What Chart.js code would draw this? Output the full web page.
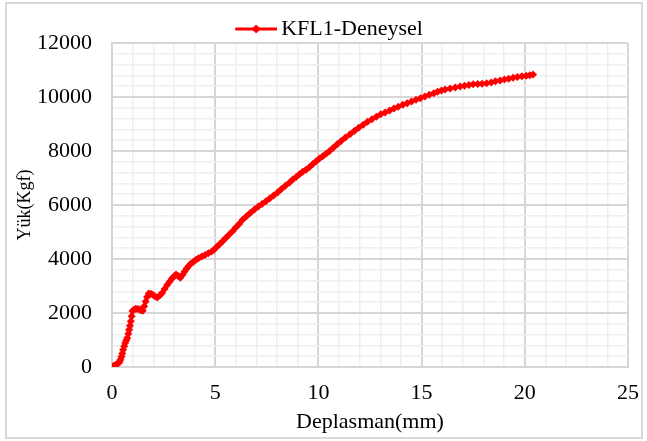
<!DOCTYPE html>
<html>
<head>
<meta charset="utf-8">
<script src="https://cdn.jsdelivr.net/npm/chart.js@4.4.1/dist/chart.umd.min.js"></script>
<style>
  html, body { margin: 0; padding: 0; background: #fff; }
  #wrap { position: relative; width: 647px; height: 441px; }
  #frame { position: absolute; left: 5px; top: 2px; width: 634px; height: 433px;
           border: 2px solid #d9d9d9; pointer-events: none; }
</style>
</head>
<body>
<div id="wrap">
  <canvas id="chart" width="647" height="441"></canvas>
  <div id="frame"></div>
</div>
<script>
// Deplasman (mm) and Yük (Kgf)
const deplasman = [
  0.00, 0.05, 0.11, 0.17, 0.24, 0.30, 0.36, 0.41, 0.46, 0.50,
  0.54, 0.59, 0.64, 0.69, 0.74, 0.79, 0.83, 0.87, 0.91, 0.95,
  0.99, 1.07, 1.15, 1.23, 1.31, 1.40, 1.49, 1.56, 1.63, 1.70,
  1.78, 1.88, 1.98, 2.08, 2.19, 2.31, 2.43, 2.55, 2.67, 2.79,
  2.91, 3.01, 3.10, 3.20, 3.31, 3.42, 3.52, 3.62, 3.71, 3.83,
  3.95, 4.07, 4.19, 4.35, 4.51, 4.67, 4.83, 4.95, 5.07, 5.21,
  5.35, 5.51, 5.67, 5.84, 6.00, 6.17, 6.33, 6.52, 6.71, 6.90,
  7.09, 7.27, 7.46, 7.65, 7.83, 8.02, 8.21, 8.40, 8.60, 8.76,
  8.92, 9.08, 9.24, 9.40, 9.56, 9.72, 9.89, 10.05, 10.21, 10.37,
  10.53, 10.72, 10.91, 11.10, 11.31, 11.53, 11.74, 11.95, 12.17, 12.38,
  12.59, 12.81, 13.02, 13.23, 13.45, 13.66, 13.87, 14.09, 14.30, 14.51,
  14.73, 14.94, 15.16, 15.37, 15.59, 15.77, 15.96, 16.14, 16.38, 16.63,
  16.87, 17.08, 17.29, 17.50, 17.72, 17.93, 18.15, 18.37, 18.58, 18.80,
  19.01, 19.22, 19.43, 19.64, 19.86, 20.07, 20.24, 20.40
];
const yuk = [
  0, 25, 50, 75, 110, 140, 175, 270, 380, 500,
  640, 770, 890, 980, 1070, 1230, 1380, 1530, 1690, 1880,
  2070, 2130, 2155, 2150, 2135, 2100, 2080, 2250, 2430, 2590,
  2720, 2710, 2680, 2620, 2570, 2650, 2740, 2890, 3040, 3160,
  3280, 3360, 3430, 3370, 3310, 3420, 3540, 3650, 3740, 3830,
  3900, 3970, 4030, 4090, 4150, 4210, 4280, 4350, 4440, 4550,
  4650, 4780, 4900, 5030, 5170, 5310, 5450, 5580, 5710, 5830,
  5940, 6040, 6140, 6250, 6350, 6460, 6590, 6710, 6830, 6940,
  7040, 7140, 7230, 7310, 7400, 7510, 7620, 7720, 7810, 7900,
  7990, 8120, 8250, 8370, 8500, 8620, 8740, 8860, 8970, 9080,
  9180, 9270, 9360, 9430, 9500, 9570, 9640, 9710, 9770, 9830,
  9895, 9955, 10020, 10080, 10140, 10190, 10240, 10280, 10315, 10350,
  10385, 10415, 10445, 10470, 10480, 10490, 10505, 10540, 10580, 10615,
  10650, 10680, 10710, 10740, 10765, 10790, 10810, 10830
];
const seriesName = 'KFL1-Deneysel';
const xTitle = 'Deplasman(mm)';
const yTitle = 'Yük(Kgf)';
const xMax = 25, xMajor = 5, xMinor = 1;
const yMax = 12000, yMajor = 2000, yMinor = 400;

const RED = '#ff0000';
const MAJOR = '#d6d6d6';
const MINOR = '#efefef';
const FONT = 'Liberation Serif, Times New Roman, serif';

// legend symbol: line with a diamond in the middle (left part kept empty to push it right)
const legendMark = document.createElement('canvas');
legendMark.width = 60;
legendMark.height = 12;
const g = legendMark.getContext('2d');
g.strokeStyle = RED;
g.lineWidth = 3;
g.beginPath(); g.moveTo(18, 6); g.lineTo(60, 6); g.stroke();
g.fillStyle = RED;
g.beginPath(); g.moveTo(39, 1.5); g.lineTo(43.5, 6); g.lineTo(39, 10.5); g.lineTo(34.5, 6); g.closePath(); g.fill();

const points = deplasman.map((x, i) => ({ x, y: yuk[i] }));

const gridColor = (step) => (c) => (c.tick && Math.round(c.tick.value) % step === 0 ? MAJOR : MINOR);
const gridWidth = (step) => (c) => (c.tick && Math.round(c.tick.value) % step === 0 ? 2 : 1.5);

new Chart(document.getElementById('chart'), {
  type: 'line',
  data: {
    datasets: [{
      label: seriesName,
      data: points,
      borderColor: RED,
      backgroundColor: RED,
      borderWidth: 3,
      pointStyle: 'rectRot',
      pointRadius: 4,
      pointBorderWidth: 0,
      pointBackgroundColor: RED,
      tension: 0,
      fill: false
    }]
  },
  options: {
    responsive: false,
    animation: false,
    layout: { padding: 0 },
    plugins: {
      tooltip: { enabled: false },
      legend: {
        position: 'top',
        maxHeight: 43,
        labels: {
          usePointStyle: true,
          pointStyle: legendMark,
          pointStyleWidth: 46,
          padding: 18,
          color: '#000',
          font: { family: FONT, size: 22 }
        }
      }
    },
    scales: {
      x: {
        type: 'linear',
        min: 0,
        max: xMax,
        afterFit: (s) => { s.height = 74; },
        ticks: {
          stepSize: xMinor,
          autoSkip: false,
          maxRotation: 0,
          padding: 8,
          color: '#000',
          font: { family: FONT, size: 22 },
          callback: (v) => (v % xMajor === 0 ? v : '')
        },
        grid: {
          color: gridColor(xMajor),
          lineWidth: gridWidth(xMajor),
          drawTicks: true,
          tickLength: 5,
          tickColor: 'rgba(0,0,0,0)'
        },
        border: { color: MAJOR, width: 2 },
        title: {
          display: true,
          text: xTitle,
          color: '#000',
          font: { family: FONT, size: 22 },
          padding: { top: 0, bottom: 6 }
        }
      },
      y: {
        min: 0,
        max: yMax,
        afterFit: (s) => { s.width = 112; },
        ticks: {
          stepSize: yMinor,
          autoSkip: false,
          padding: 20,
          color: '#000',
          font: { family: FONT, size: 22 },
          callback: (v) => (v % yMajor === 0 ? v : '')
        },
        grid: { color: gridColor(yMajor), lineWidth: gridWidth(yMajor), drawTicks: false },
        border: { color: MAJOR, width: 2 },
        title: {
          display: true,
          text: yTitle,
          color: '#000',
          font: { family: FONT, size: 18 },
          padding: { top: 14, bottom: 0 }
        }
      }
    }
  }
});
</script>
</body>
</html>
